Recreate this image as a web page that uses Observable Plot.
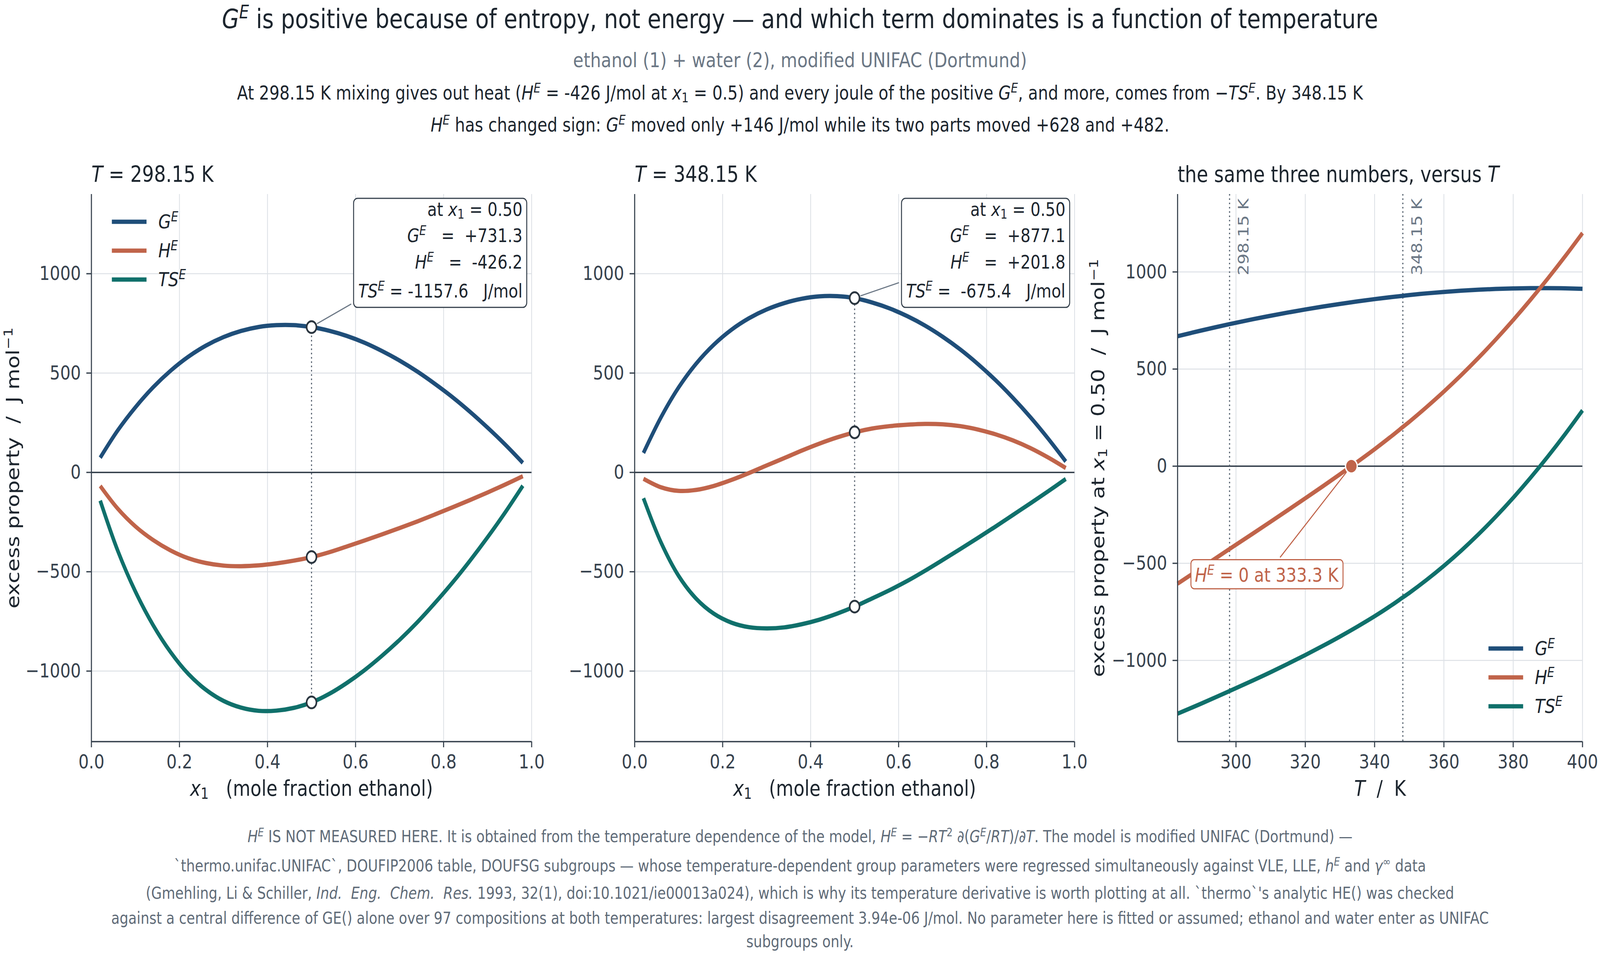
<!DOCTYPE html>
<html><head><meta charset="utf-8">
<script src="https://cdn.jsdelivr.net/npm/d3@7"></script>
<script src="https://cdn.jsdelivr.net/npm/@observablehq/plot@0.6"></script>
<style>
html,body{margin:0;padding:0;background:#fff;overflow:hidden;}
#page{width:4892px;height:2446px;position:absolute;left:0;top:0;transform-origin:0 0;background:#fff;font-family:"DejaVu Sans",sans-serif;}
.ln{position:absolute;left:0;width:4892px;text-align:center;white-space:pre;}
.sup{font-size:0.7em;position:relative;top:-0.51em;}
.sub{font-size:0.7em;position:relative;top:0.21em;}
</style></head><body>
<div id="page"></div>
<script>
// ---------------- data ----------------
const X1 = [0.02,0.06,0.10,0.14,0.18,0.22,0.26,0.30,0.34,0.38,0.42,0.46,0.50,0.54,0.58,0.62,0.66,0.70,0.74,0.78,0.82,0.86,0.90,0.94,0.98];
const GE_298 = [74,212,328,428,512,582,638,681,712,732,741,741,731.3,713,687,653,611,563,508,446,379,305,225,140,48];
const HE_298 = [-68,-183,-272,-340,-393,-432,-456,-469,-472,-468,-458,-444,-426.2,-402,-373,-343,-312,-280,-247,-212,-176,-139,-101,-61,-19];
const TSE_298 = [-142,-395,-600,-768,-905,-1014,-1094,-1150,-1184,-1200,-1199,-1185,-1157.6,-1115,-1060,-996,-923,-843,-755,-658,-555,-444,-326,-201,-67];
const GE_348 = [98,278,428,548,643,718,776,820,852,874,886,887,877.1,855,825,786,739,683,619,546,465,375,277,170,55];
const HE_348 = [-32,-75,-93,-88,-68,-38,-3,35,72,110,145,176,201.8,221,233,240,244,242,233,216,192,161,122,75,22];
const TSE_348 = [-130,-353,-521,-636,-711,-756,-779,-785,-780,-764,-741,-711,-675.4,-634,-592,-546,-495,-441,-386,-330,-273,-214,-155,-95,-33];
const T_K = [283.15,290,298.15,305,310,315,320,325,330,335,340,345,348.15,350,355,360,365,370,375,380,385,390,395,400];
const GE_T = [669,698.5,731.3,756.9,774.5,791.1,806.8,821.5,835.3,848.1,860.0,870.9,877.1,880.9,889.7,897.2,903.5,908.6,912.4,915.0,916.4,916.6,915.5,913.2];
const HE_T = [-605,-523.5,-426.2,-345.4,-285.9,-225.9,-165.4,-104.2,-41.9,21.8,87.3,156.3,201.8,228.3,304.3,384.3,468.8,558.3,652.8,752.3,856.8,966.3,1080.8,1200.3];
const TSE_T = [-1274,-1222,-1157.6,-1102.3,-1060.4,-1017,-972.2,-925.7,-877.2,-826.3,-772.7,-714.6,-675.4,-652.6,-585.4,-512.9,-434.7,-350.3,-259.6,-162.7,-59.6,49.7,165.3,287.1];
const TEMPS = [298.15, 348.15];
const X_AT = 0.5;
const HE_ZERO_T = 333.3;
const SERIES = ["GE","HE","TSE"];
const SERIES_LABEL = {GE:"{i:G}{isup:E}", HE:"{i:H}{isup:E}", TSE:"{i:TS}{isup:E}"};
const X_TICKS = [0,0.2,0.4,0.6,0.8,1.0];
const Y_TICKS = [-1000,-500,0,500,1000];
const T_TICKS = [300,320,340,360,380,400];
const X_DOMAIN = [0,1], Y_DOMAIN_X = [-1355,1400];
const T_DOMAIN = [283.15,400], Y_DOMAIN_T = [-1418,1400];

// ---------------- page scaling so the 4892x2446 design fills the window ----------------
const PAGE = document.getElementById("page");
const SX = window.innerWidth / 4892, SY = window.innerHeight / 2446;
PAGE.style.transform = `scale(${SX}, ${SY})`;
document.body.style.width = window.innerWidth + "px";
document.body.style.height = window.innerHeight + "px";

// ---------------- styles ----------------
const FONT = '"DejaVu Sans", sans-serif';
const COLORS = ["#1f4e79","#c0644a","#10706b"];
const C = {ink:"#1c252e", tick:"#37424e", grid:"#dde1e6", zero:"#2e3a46", dot:"#5b6673", edge:"#2b3640", gray:"#6b7785", cap:"#5f6b78"};
const NS = "http://www.w3.org/2000/svg";
const PH = 1660, MT = 97, MB = 161, TOP = 400;
const LW = 11;
const fmtY = d => d < 0 ? "\u2212" + Math.abs(d) : String(d);

// ---------------- header / caption (HTML) ----------------
const MARK = /\{(i|sup|sub|isup|isub):([^}]*)\}/g;
function toHTML(s){
  s = s.replace(/&/g,"&amp;").replace(/</g,"&lt;");
  return s.replace(MARK,(m,k,t)=>{
    const it = k==="i"||k==="isup"||k==="isub";
    const cls = k.endsWith("sup")?"sup":k.endsWith("sub")?"sub":"";
    return `<span class="${cls}"${it?' style="font-style:italic"':''}>${t}</span>`;
  });
}
function hline(s, F, baseline, color){
  const d = document.createElement("div");
  d.className = "ln";
  d.style.fontSize = F+"px"; d.style.lineHeight = (1.2*F)+"px";
  d.style.top = (baseline - 0.946*F)+"px"; d.style.color = color;
  d.innerHTML = toHTML(s);
  PAGE.appendChild(d);
}
hline("{i:G}{isup:E} is positive because of entropy, not energy \u2014 and which term dominates is a function of temperature", 68, 72, C.ink);
hline("ethanol (1) + water (2), modified UNIFAC (Dortmund)", 52, 172, C.gray);
hline("At 298.15 K mixing gives out heat ({i:H}{isup:E} = -426 J/mol at {i:x}{sub:1} = 0.5) and every joule of the positive {i:G}{isup:E}, and more, comes from \u2212{i:TS}{isup:E}. By 348.15 K", 49, 256, C.ink);
hline("{i:H}{isup:E} has changed sign: {i:G}{isup:E} moved only +146 J/mol while its two parts moved +628 and +482.", 49, 338, C.ink);
const CAPTION = [
  "{i:H}{isup:E} IS NOT MEASURED HERE. It is obtained from the temperature dependence of the model, {i:H}{isup:E} = \u2212{i:RT}{sup:2} \u2202({i:G}{isup:E}/{i:RT})/\u2202{i:T}. The model is modified UNIFAC (Dortmund) \u2014",
  "`thermo.unifac.UNIFAC`, DOUFIP2006 table, DOUFSG subgroups \u2014 whose temperature-dependent group parameters were regressed simultaneously against VLE, LLE, {i:h}{isup:E} and {i:\u03b3}{sup:\u221e} data",
  "(Gmehling, Li & Schiller, {i:Ind.  Eng.  Chem.  Res.} 1993, 32(1), doi:10.1021/ie00013a024), which is why its temperature derivative is worth plotting at all. `thermo`'s analytic HE() was checked",
  "against a central difference of GE() alone over 97 compositions at both temperatures: largest disagreement 3.94e-06 J/mol. No parameter here is fitted or assumed; ethanol and water enter as UNIFAC",
  "subgroups only."
];
const CAP_BASE = [2158, 2233, 2303, 2367, 2427];
CAPTION.forEach((s,i)=>hline(s, 42, CAP_BASE[i], C.cap));

// ---------------- SVG helpers ----------------
function richText(el){
  const s = el.textContent;
  if (!s.includes("{")) return;
  const fs = parseFloat(getComputedStyle(el).fontSize);
  while (el.firstChild) el.removeChild(el.firstChild);
  el.setAttribute("xml:space","preserve"); el.style.whiteSpace = "pre";
  let shift = 0, last = 0, m;
  const add = (txt, kind) => {
    if (!txt) return;
    const t = document.createElementNS(NS,"tspan");
    let target = 0, small = false;
    const it = kind==="i"||kind==="isup"||kind==="isub";
    if (kind==="sup"||kind==="isup"){ target = -0.36*fs; small = true; }
    if (kind==="sub"||kind==="isub"){ target = 0.15*fs; small = true; }
    if (target !== shift) t.setAttribute("dy", (target-shift).toFixed(2));
    shift = target;
    if (small) t.setAttribute("font-size", (0.7*fs).toFixed(2));
    if (it) t.setAttribute("font-style","italic");
    t.textContent = txt; el.appendChild(t);
  };
  MARK.lastIndex = 0;
  while ((m = MARK.exec(s))) { add(s.slice(last, m.index), ""); add(m[2], m[1]); last = MARK.lastIndex; }
  add(s.slice(last), "");
}
function tag(svg, contents, role){
  const set = new Set(contents);
  svg.querySelectorAll("text").forEach(t=>{ if (set.has(t.textContent)) t.setAttribute("data-role", role); });
}
function richify(svg){ svg.querySelectorAll("text").forEach(richText); }
function el(tag, attrs){ const e = document.createElementNS(NS, tag); for (const k in attrs) e.setAttribute(k, attrs[k]); return e; }
function bboxOf(svg, sel){
  const sr = svg.getBoundingClientRect();
  const kx = sr.width / svg.width.baseVal.value, ky = sr.height / svg.height.baseVal.value;
  let x0=Infinity,y0=Infinity,x1=-Infinity,y1=-Infinity;
  svg.querySelectorAll(sel).forEach(t=>{const r=t.getBoundingClientRect();
    x0=Math.min(x0,(r.left-sr.left)/kx); y0=Math.min(y0,(r.top-sr.top)/ky); x1=Math.max(x1,(r.right-sr.left)/kx); y1=Math.max(y1,(r.bottom-sr.top)/ky);});
  return {x0,y0,x1,y1};
}
function leader(box, px, py, gapA, gapB){
  const cx=(box.x0+box.x1)/2, cy=(box.y0+box.y1)/2, dx=px-cx, dy=py-cy, L=Math.hypot(dx,dy), ux=dx/L, uy=dy/L;
  const tx = dx<0 ? (box.x0-cx)/dx : (box.x1-cx)/dx;
  const ty = dy<0 ? (box.y0-cy)/dy : (box.y1-cy)/dy;
  const t = Math.min(tx,ty);
  return {x1: cx+t*dx+gapA*ux, y1: cy+t*dy+gapA*uy, x2: px-gapB*ux, y2: py-gapB*uy};
}
function drawBox(svg, role, pads, stroke, rx, lineInfo){
  const first = svg.querySelector(`text[data-role="${role}"]`);
  if (!first) return;
  const g0 = first.parentNode;
  const bb = bboxOf(svg, `text[data-role="${role}"]`);
  const box = {x0: bb.x0-pads[0], y0: bb.y0-pads[1], x1: bb.x1+pads[2], y1: bb.y1+pads[3]};
  if (lineInfo){
    const l = leader(box, lineInfo.px, lineInfo.py, lineInfo.gapA, lineInfo.gapB);
    g0.parentNode.insertBefore(el("line",{x1:l.x1,y1:l.y1,x2:l.x2,y2:l.y2,stroke:lineInfo.stroke,"stroke-width":3}), g0);
  }
  g0.parentNode.insertBefore(el("rect",{x:box.x0,y:box.y0,width:box.x1-box.x0,height:box.y1-box.y0,rx,ry:rx,fill:"white",stroke,"stroke-width":3}), g0);
}
function drawLegend(svg, x0, rows){
  const g = el("g",{"text-anchor":"start"});
  SERIES.forEach((s,i)=>{
    g.appendChild(el("line",{x1:x0,x2:x0+106,y1:rows[i],y2:rows[i],stroke:COLORS[i],"stroke-width":LW}));
    const t = el("text",{x:x0+142,y:rows[i]+17,"font-size":50,fill:C.ink,"text-anchor":"start"});
    t.textContent = SERIES_LABEL[s]; g.appendChild(t);
  });
  svg.appendChild(g);
}
function axes(xTicks, xFmt, yTicks){
  return [
    Plot.axisX(xTicks, {tickSize:15, tickPadding:17.5, tickFormat:xFmt, stroke:C.tick, strokeWidth:3.3, fill:C.tick, fontSize:50, label:null}),
    Plot.axisY(yTicks, {tickSize:15, tickPadding:17, tickFormat:fmtY, stroke:C.tick, strokeWidth:3.3, fill:C.tick, fontSize:50, label:null})
  ];
}
function place(node, left){ node.style.position="absolute"; node.style.left=left+"px"; node.style.top=TOP+"px"; node.style.maxWidth="none"; PAGE.appendChild(node); }
const svgOf = p => p.tagName.toLowerCase()==="svg" ? p : p.querySelector("svg");
const sgn = v => ((v>=0?"+":"-")+Math.abs(v).toFixed(1)).padStart(7," ");
const BOX_DY = [55,122,190,264];

// ---------------- composition panels ----------------
function compPanel(o){
  const {G,H,TS,temp,left,width,marginLeft,marginRight,yLabel,legend} = o;
  const rows = X1.flatMap((x,i)=>[{x,v:G[i],s:"GE"},{x,v:H[i],s:"HE"},{x,v:TS[i],s:"TSE"}]);
  const k = X1.indexOf(X_AT);
  const pts = [{x:X_AT,v:G[k]},{x:X_AT,v:H[k]},{x:X_AT,v:TS[k]}];
  const lines = [
    `at {i:x}{sub:1} = ${X_AT.toFixed(2)}`,
    `{i:G}{isup:E}   = ${sgn(G[k])}`,
    `{i:H}{isup:E}   = ${sgn(H[k])}`,
    `{i:TS}{isup:E} = ${sgn(TS[k])}   J/mol`
  ];
  const plot = Plot.plot({
    width, height:PH, marginTop:MT, marginBottom:MB, marginLeft, marginRight,
    style:{fontFamily:FONT, fontSize:"50px", background:"transparent", color:C.ink, overflow:"visible"},
    x:{domain:X_DOMAIN}, y:{domain:Y_DOMAIN_X},
    color:{domain:SERIES, range:COLORS},
    marks:[
      Plot.gridX(X_TICKS,{stroke:C.grid,strokeOpacity:1,strokeWidth:2.5}),
      Plot.gridY(Y_TICKS,{stroke:C.grid,strokeOpacity:1,strokeWidth:2.5}),
      Plot.ruleY([0],{stroke:C.zero,strokeWidth:3.5}),
      Plot.ruleX([{x:X_AT,y1:TS[k],y2:G[k]}],{x:"x",y1:"y1",y2:"y2",stroke:C.dot,strokeWidth:3.5,strokeDasharray:"4,7"}),
      Plot.line(rows,{x:"x",y:"v",z:"s",stroke:"s",strokeWidth:LW,curve:"catmull-rom",strokeLinecap:"butt"}),
      Plot.dot(pts,{x:"x",y:"v",r:15,fill:"white",stroke:C.edge,strokeWidth:5}),
      ...axes(X_TICKS, d3.format(".1f"), Y_TICKS),
      Plot.ruleX([X_DOMAIN[0]],{stroke:C.tick,strokeWidth:3.3}),
      Plot.ruleY([Y_DOMAIN_X[0]],{stroke:C.tick,strokeWidth:3.3}),
      Plot.text([`{i:T} = ${temp} K`],{text:d=>d,frameAnchor:"top-left",dy:-32,textAnchor:"start",lineAnchor:"bottom",fontSize:57,fill:C.ink}),
      Plot.text(["{i:x}{sub:1}   (mole fraction ethanol)"],{text:d=>d,frameAnchor:"bottom",dy:138,lineAnchor:"bottom",fontSize:55,fill:C.ink}),
      yLabel ? Plot.text([yLabel],{text:d=>d,frameAnchor:"left",rotate:-90,dx:-221,lineAnchor:"bottom",textAnchor:"middle",fontSize:55,fill:C.ink}) : null,
      ...lines.map((t,j)=>Plot.text([t],{text:d=>d,frameAnchor:"top-right",dx:-28,dy:BOX_DY[j],textAnchor:"end",lineAnchor:"bottom",fontSize:48,fill:C.ink}))
    ]
  });
  place(plot, left);
  const svg = svgOf(plot);
  if (legend) drawLegend(svg, marginLeft+63, [MT+71, MT+145, MT+219]);
  tag(svg, lines, "box-line");
  richify(svg);
  const sx = plot.scale("x"), sy = plot.scale("y");
  drawBox(svg, "box-line", [14,0,13,15], C.tick, 12, {px:sx.apply(X_AT), py:sy.apply(G[k]), gapA:8, gapB:19, stroke:C.gray});
}
compPanel({G:GE_298,H:HE_298,TS:TSE_298,temp:TEMPS[0],left:0,width:1700,marginLeft:279,marginRight:75,yLabel:"excess property  /  J mol{sup:\u22121}",legend:true});
compPanel({G:GE_348,H:HE_348,TS:TSE_348,temp:TEMPS[1],left:1700,width:1640,marginLeft:240,marginRight:55,yLabel:null,legend:false});

// ---------------- temperature panel ----------------
(function(){
  const rows = T_K.flatMap((T,i)=>[{T,v:GE_T[i],s:"GE"},{T,v:HE_T[i],s:"HE"},{T,v:TSE_T[i],s:"TSE"}]);
  const zero = [{T:HE_ZERO_T, v:0}];
  const zeroText = `{i:H}{isup:E} = 0 at ${HE_ZERO_T.toFixed(1)} K`;
  const width = 1552, marginLeft = 260, marginRight = 54;
  const plot = Plot.plot({
    width, height:PH, marginTop:MT, marginBottom:MB, marginLeft, marginRight,
    style:{fontFamily:FONT, fontSize:"50px", background:"transparent", color:C.ink, overflow:"visible"},
    x:{domain:T_DOMAIN}, y:{domain:Y_DOMAIN_T},
    color:{domain:SERIES, range:COLORS},
    marks:[
      Plot.gridX(T_TICKS,{stroke:C.grid,strokeOpacity:1,strokeWidth:2.5}),
      Plot.gridY(Y_TICKS,{stroke:C.grid,strokeOpacity:1,strokeWidth:2.5}),
      Plot.ruleY([0],{stroke:C.zero,strokeWidth:3.5}),
      Plot.ruleX(TEMPS,{stroke:C.dot,strokeWidth:3.5,strokeDasharray:"4,7"}),
      Plot.text(TEMPS,{x:d=>d,text:d=>`${d} K`,frameAnchor:"top",rotate:-90,textAnchor:"end",lineAnchor:"middle",dx:44,dy:11,fontSize:44,fill:C.gray}),
      Plot.line(rows,{x:"T",y:"v",z:"s",stroke:"s",strokeWidth:LW,curve:"catmull-rom",strokeLinecap:"butt"}),
      Plot.dot(zero,{x:"T",y:"v",r:18,fill:COLORS[1],stroke:"white",strokeWidth:4}),
      Plot.text(zero,{x:"T",y:"v",text:()=>zeroText,dx:-259,dy:280,textAnchor:"middle",lineAnchor:"middle",fontSize:50,fill:COLORS[1]}),
      ...axes(T_TICKS, d=>String(d), Y_TICKS),
      Plot.ruleX([T_DOMAIN[0]],{stroke:C.tick,strokeWidth:3.3}),
      Plot.ruleY([Y_DOMAIN_T[0]],{stroke:C.tick,strokeWidth:3.3}),
      Plot.text(["the same three numbers, versus {i:T}"],{text:d=>d,frameAnchor:"top-left",dy:-32,textAnchor:"start",lineAnchor:"bottom",fontSize:57,fill:C.ink}),
      Plot.text(["{i:T}  /  K"],{text:d=>d,frameAnchor:"bottom",dy:138,lineAnchor:"bottom",fontSize:55,fill:C.ink}),
      Plot.text(["excess property at {i:x}{sub:1} = 0.50  /  J mol{sup:\u22121}"],{text:d=>d,frameAnchor:"left",rotate:-90,dx:-224,lineAnchor:"bottom",textAnchor:"middle",fontSize:55,fill:C.ink})
    ]
  });
  place(plot, 3340);
  const svg = svgOf(plot);
  const fr = width - marginRight, fb = PH - MB;
  drawLegend(svg, fr-287, [fb-238, fb-164, fb-90]);
  tag(svg, [zeroText], "zero-label");
  richify(svg);
  const sx = plot.scale("x"), sy = plot.scale("y");
  drawBox(svg, "zero-label", [12,6,12,6], COLORS[1], 10, {px:sx.apply(HE_ZERO_T), py:sy.apply(0), gapA:8, gapB:21, stroke:COLORS[1]});
})();
</script></body></html>
